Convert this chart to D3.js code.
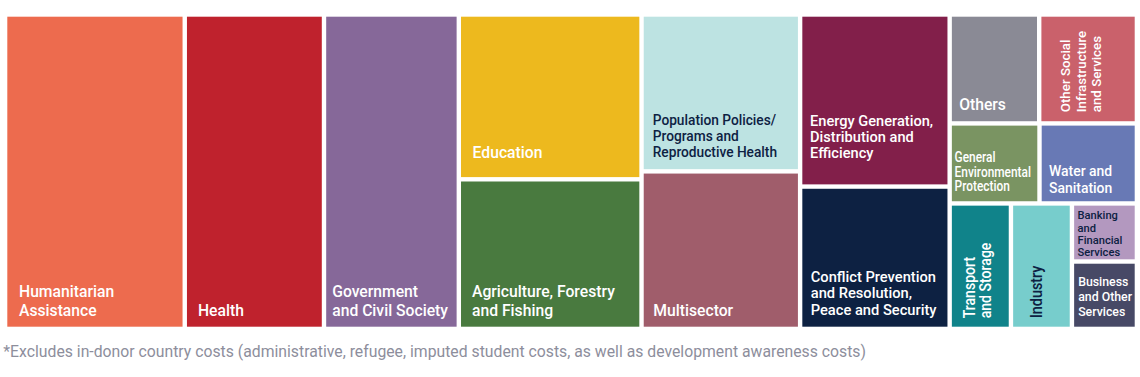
<!DOCTYPE html>
<html>
<head>
<meta charset="utf-8">
<script src="https://cdn.jsdelivr.net/npm/d3@7"></script>
<style>
  html, body { margin: 0; padding: 0; background: #ffffff; }
  svg { display: block; }
  text { font-family: Roboto, "Liberation Sans", sans-serif; }
</style>
</head>
<body>
<svg id="chart" width="1140" height="377"></svg>
<script>
// ---------------- data ----------------
const sectors = [
  "Humanitarian Assistance", "Health", "Government and Civil Society",
  "Education", "Agriculture, Forestry and Fishing",
  "Population Policies/Programs and Reproductive Health", "Multisector",
  "Energy Generation, Distribution and Efficiency",
  "Conflict Prevention and Resolution, Peace and Security",
  "Others", "Other Social Infrastructure and Services",
  "General Environmental Protection", "Water and Sanitation",
  "Transport and Storage", "Industry",
  "Banking and Financial Services", "Business and Other Services"
];
// share of total (%), read from tile areas
const values = [15.87, 12.30, 11.91, 8.46, 7.68, 6.99, 7.02, 7.23, 5.98,
                2.74, 2.99, 2.02, 2.19, 2.16, 2.15, 1.06, 1.23];
// nesting of the tiles (column / row / sub-stack)
const groups = ["c1", "c2", "c3", "c4", "c4", "c5", "c5", "c6", "c6",
                "c7/r1", "c7/r1", "c7/r2", "c7/r2", "c7/r3", "c7/r3", "c7/r3/s", "c7/r3/s"];
const labelLines = [
  ["Humanitarian", "Assistance"], ["Health"], ["Government", "and Civil Society"],
  ["Education"], ["Agriculture, Forestry", "and Fishing"],
  ["Population Policies/", "Programs and", "Reproductive Health"], ["Multisector"],
  ["Energy Generation,", "Distribution and", "Efficiency"],
  ["Conflict Prevention", "and Resolution,", "Peace and Security"],
  ["Others"], ["Other Social", "Infrastructure", "and Services"],
  ["General", "Environmental", "Protection"], ["Water and", "Sanitation"],
  ["Transport", "and Storage"], ["Industry"],
  ["Banking", "and", "Financial", "Services"], ["Business", "and Other", "Services"]
];
const footnote = "*Excludes in-donor country costs (administrative, refugee, imputed student costs, as well as development awareness costs)";

// ---------------- styles ----------------
const colors = ["#ED6B4E", "#BF222D", "#866899", "#EDB91E", "#497A3F", "#BDE3E2", "#A05D6B",
                "#821F4A", "#0D2142", "#8A8A95", "#CA616B", "#7A9462", "#6879B5",
                "#10838A", "#77CDCC", "#B398BF", "#474966"];
const DARK = "#0D2142";
// mode: b = bottom anchored, t = top anchored, r = rotated (reads upwards)
const labelStyle = [
  {m: "b", size: 16.2, sx: 0.97, lh: 19,   dx: 11.7, dy: 11,   c: "#fff"},
  {m: "b", size: 16.2, sx: 0.97, lh: 19,   dx: 11,   dy: 11,   c: "#fff"},
  {m: "b", size: 16.2, sx: 0.97, lh: 19,   dx: 6,    dy: 11,   c: "#fff"},
  {m: "b", size: 16.2, sx: 0.97, lh: 19,   dx: 11.6, dy: 18.7, c: "#fff"},
  {m: "b", size: 16.2, sx: 0.97, lh: 19,   dx: 11,   dy: 11,   c: "#fff"},
  {m: "b", size: 15,   sx: 0.915, lh: 16,  dx: 9,    dy: 11.7, c: DARK},
  {m: "b", size: 16.2, sx: 0.97, lh: 19,   dx: 9.6,  dy: 11,   c: "#fff"},
  {m: "b", size: 15,   sx: 0.975, lh: 16,  dx: 7.7,  dy: 26.3, c: "#fff"},
  {m: "b", size: 15.3, sx: 0.96, lh: 16.7, dx: 8.4,  dy: 11.7, c: "#fff"},
  {m: "b", size: 16.2, sx: 0.97, lh: 19,   dx: 7.3,  dy: 11.3, c: "#fff"},
  {m: "r", size: 13.3, sx: 1.0,  lh: 15.5, dx: 29,   dy: 9,    c: "#fff"},
  {m: "b", size: 14,   sx: 0.85, lh: 14.5, dx: 2.7,  dy: 10,   c: "#fff"},
  {m: "b", size: 15,   sx: 0.93, lh: 16.3, dx: 7.3,  dy: 8.7,  c: "#fff"},
  {m: "r", size: 16,   sx: 0.88, lh: 16,   dx: 23.4, dy: 8.4,  c: "#fff"},
  {m: "r", size: 16,   sx: 0.9,  lh: 16,   dx: 28.4, dy: 8.4,  c: DARK},
  {m: "t", size: 11.6, sx: 0.96, lh: 12.2, dx: 3.4,  dy: 13.8, c: DARK},
  {m: "b", size: 13,   sx: 0.95, lh: 15,   dx: 4,    dy: 10.7, c: "#fff"}
];

// ---------------- hierarchy ----------------
const rootData = {key: "root", children: []};
sectors.forEach((s, i) => {
  let node = rootData;
  groups[i].split("/").forEach(g => {
    let c = node.children.find(ch => ch.key === g);
    if (!c) { c = {key: g, children: []}; node.children.push(c); }
    node = c;
  });
  node.children.push({key: s, index: i, value: values[i]});
});

const root = d3.hierarchy(rootData).sum(d => d.value || 0);

const W = 1127.4, H = 310;
d3.treemap()
  .size([W, H])
  .paddingInner(4.4)
  .tile((node, x0, y0, x1, y1) =>
    (node.depth % 2 ? d3.treemapSlice : d3.treemapDice)(node, x0, y0, x1, y1))(root);

const svg = d3.select("#chart");
const g = svg.append("g").attr("transform", "translate(7.3,16.7)");

const leaves = g.selectAll("g.leaf").data(root.leaves()).join("g").attr("class", "leaf");

leaves.append("rect")
  .attr("x", d => d.x0).attr("y", d => d.y0)
  .attr("width", d => d.x1 - d.x0).attr("height", d => d.y1 - d.y0)
  .attr("fill", d => colors[d.data.index]);

leaves.each(function (d) {
  const i = d.data.index, st = labelStyle[i], lines = labelLines[i];
  const n = lines.length;
  let tx, ty, rot = 0;
  if (st.m === "r") { tx = d.x0 + st.dx; ty = d.y1 - st.dy; rot = -90; }
  else if (st.m === "t") { tx = d.x0 + st.dx; ty = d.y0 + st.dy; }
  else { tx = d.x0 + st.dx; ty = d.y1 - st.dy - (n - 1) * st.lh; }
  const t = d3.select(this).append("text")
    .attr("transform", `translate(${tx},${ty}) rotate(${rot}) scale(${st.sx},1)`)
    .attr("fill", st.c)
    .attr("font-size", st.size)
    .attr("font-weight", 500);
  lines.forEach((ln, k) => {
    t.append("tspan").attr("x", 0).attr("y", k * st.lh).text(ln);
  });
});

svg.append("text")
  .attr("transform", "translate(3.3,356.5) scale(0.95,1)")
  .attr("fill", "#8D8E9C")
  .attr("font-size", 16.6)
  .attr("font-weight", 400)
  .text(footnote);
</script>
</body>
</html>
